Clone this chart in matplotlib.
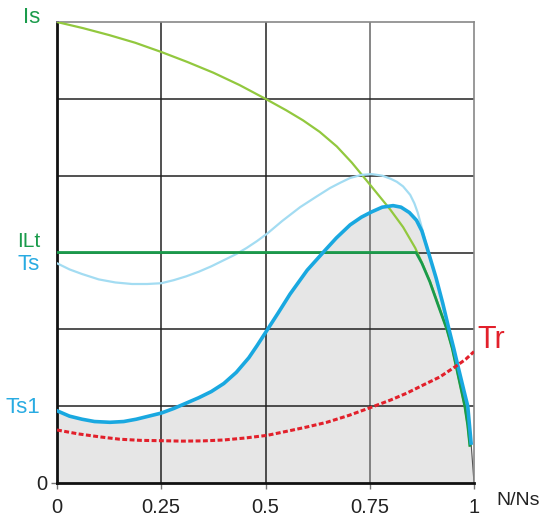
import matplotlib.pyplot as plt

plt.rcParams['font.family'] = ['Liberation Sans', 'DejaVu Sans']

# Is : courant statorique
is_x = [0, 0.0625, 0.125, 0.1875, 0.25, 0.3125, 0.375, 0.4375, 0.5, 0.55, 0.59, 0.63, 0.671, 0.707,
        0.751, 0.799, 0.83, 0.859, 0.875, 0.894, 0.915, 0.935, 0.948, 0.958, 0.968, 0.978, 0.985, 0.99]
is_y = [6.0, 5.92, 5.83, 5.73, 5.61, 5.48, 5.34, 5.18, 5.0, 4.85, 4.72, 4.57, 4.38, 4.17,
        3.88, 3.56, 3.33, 3.06, 2.87, 2.63, 2.31, 2.0, 1.75, 1.5, 1.25, 1.0, 0.75, 0.49]

# ILt : limite de courant
ilt_x = [0, 0.861, 0.875, 0.894, 0.915, 0.935, 0.948, 0.958, 0.968, 0.978, 0.985, 0.99]
ilt_y = [3.0, 3.0, 2.86, 2.62, 2.30, 2.0, 1.75, 1.5, 1.25, 1.0, 0.75, 0.49]

# Ts : couple direct
ts_x = [0, 0.03, 0.06, 0.1, 0.14, 0.18, 0.216, 0.25, 0.28, 0.31, 0.34, 0.37, 0.40, 0.43, 0.455,
        0.48, 0.505, 0.54, 0.583, 0.62, 0.655, 0.68, 0.703, 0.73, 0.755, 0.78, 0.80, 0.815, 0.83,
        0.847, 0.857, 0.865, 0.872, 0.88, 0.887]
ts_y = [2.86, 2.78, 2.72, 2.65, 2.61, 2.59, 2.59, 2.60, 2.64, 2.69, 2.75, 2.82, 2.90, 2.98, 3.06,
        3.15, 3.25, 3.41, 3.59, 3.72, 3.84, 3.91, 3.97, 4.01, 4.02, 4.00, 3.96, 3.92, 3.86,
        3.75, 3.64, 3.52, 3.38, 3.22, 3.07]

# Ts1 : couple avec limitation
ts1_x = [0, 0.03, 0.06, 0.09, 0.127, 0.16, 0.19, 0.22, 0.25, 0.28, 0.31, 0.34, 0.37, 0.40, 0.43,
         0.46, 0.48, 0.505, 0.53, 0.559, 0.6, 0.643, 0.67, 0.703, 0.73, 0.755, 0.78, 0.806, 0.825,
         0.845, 0.862, 0.875, 0.887, 0.898, 0.909, 0.925, 0.94, 0.952, 0.962, 0.975, 0.985, 0.993]
ts1_y = [0.94, 0.87, 0.83, 0.80, 0.79, 0.80, 0.83, 0.87, 0.91, 0.97, 1.04, 1.11, 1.19, 1.295, 1.44,
         1.63, 1.79, 2.0, 2.21, 2.46, 2.77, 3.03, 3.19, 3.36, 3.46, 3.53, 3.59, 3.61, 3.59,
         3.52, 3.42, 3.28, 3.07, 2.87, 2.67, 2.34, 2.0, 1.74, 1.51, 1.22, 1.0, 0.52]

# Tr : couple resistant
tr_x = [0, 0.05, 0.103, 0.15, 0.2, 0.254, 0.3, 0.35, 0.4, 0.45, 0.504, 0.566, 0.6, 0.647, 0.7,
        0.751, 0.8, 0.839, 0.88, 0.918, 0.954, 0.98, 1.0]
tr_y = [0.69, 0.64, 0.60, 0.57, 0.555, 0.55, 0.545, 0.548, 0.56, 0.585, 0.62, 0.69, 0.73, 0.79, 0.88,
        0.98, 1.08, 1.17, 1.28, 1.38, 1.51, 1.61, 1.71]

xticks = [0, 0.25, 0.5, 0.75, 1]
xlabels = ["0", "0.25", "0.5", "0.75", "1"]

fig = plt.figure(figsize=(5.41, 5.18), dpi=100)
ax = fig.add_axes([57/541, 35/518, 417/541, 461/518])
ax.set_xlim(0, 1)
ax.set_ylim(0, 6)

# grille
for gx in [0.25, 0.5]:
    ax.axvline(gx, color="#222222", lw=1.1, zorder=1)
ax.axvline(0.75, color="#666666", lw=1.1, zorder=1)
for gy in [1, 2, 3, 4, 5]:
    ax.axhline(gy, color="#222222", lw=1.1, zorder=1)

# zone grise sous Ts1
fx = ts1_x + [1.0]
fy = ts1_y + [0.0]
ax.fill_between(fx, fy, 0, color="#e6e6e6", lw=0, zorder=0)
ax.plot(fx[-2:], fy[-2:], color="#555555", lw=0.8, zorder=2)

ax.plot(is_x, is_y, color="#92c83e", lw=1.6, zorder=3, solid_joinstyle="round")
ax.plot(ts_x, ts_y, color="#a3dcf2", lw=1.6, zorder=3, solid_joinstyle="round")
ax.plot(ilt_x, ilt_y, color="#1a9b4b", lw=2.0, zorder=4, solid_joinstyle="round")
ax.plot(ts1_x, ts1_y, color="#19a8e0", lw=2.6, zorder=5, solid_joinstyle="round")
ax.plot(tr_x, tr_y, color="#e2202b", lw=2.2, linestyle=(0, (1.6, 0.8)), zorder=6)

for s in ["top", "right"]:
    ax.spines[s].set_color("#888888")
    ax.spines[s].set_linewidth(1.2)
for s in ["left", "bottom"]:
    ax.spines[s].set_color("#111111")
    ax.spines[s].set_linewidth(2.0)

ax.set_xticks(xticks)
ax.set_xticklabels(xlabels, fontsize=14.5, color="#222222")
ax.tick_params(axis="x", length=4, width=1, color="#777777", pad=6.5)
ax.set_yticks([0])
ax.set_yticklabels(["0"], fontsize=14.5, color="#222222")
ax.tick_params(axis="y", length=4, width=1, color="#777777", pad=3)

tr = ax.get_yaxis_transform()
ax.text(-0.041, 6.06, "Is", color="#1a9b4b", fontsize=16, ha="right", va="center", transform=tr)
ax.text(-0.041, 3.14, "ILt", color="#1a9b4b", fontsize=15, ha="right", va="center", transform=tr)
ax.text(-0.041, 2.84, "Ts", color="#29abe2", fontsize=16, ha="right", va="center", transform=tr)
ax.text(-0.041, 0.98, "Ts1", color="#29abe2", fontsize=16, ha="right", va="center", transform=tr)
ax.text(1.007, 1.86, "Tr", color="#e2202b", fontsize=22, ha="left", va="center", transform=tr, clip_on=False)
ax.text(1.053, -0.23, "N/Ns", color="#222222", fontsize=14, ha="left", va="center", transform=tr, clip_on=False)

fig.savefig("out.png", dpi=100)
